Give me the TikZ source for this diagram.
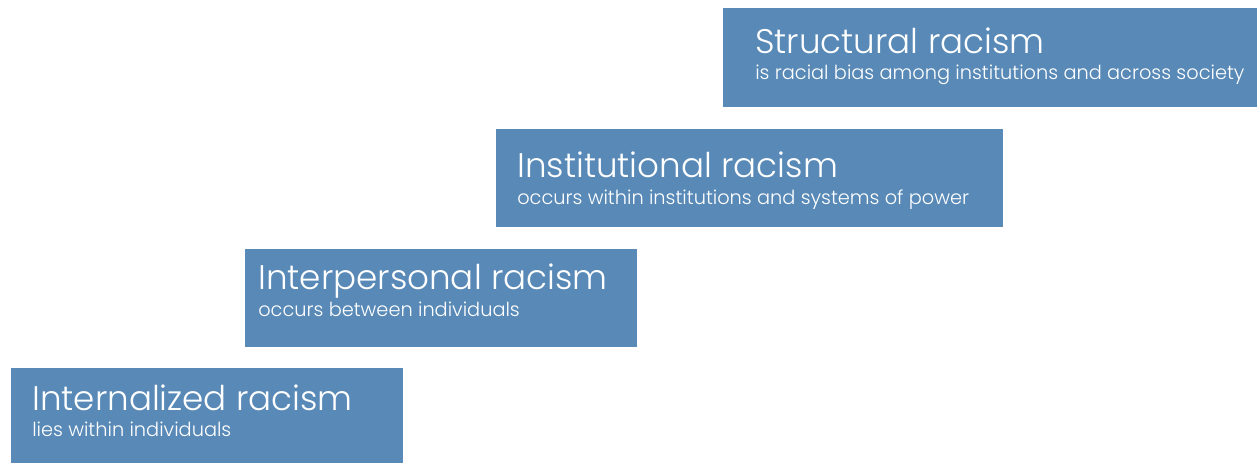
\documentclass[tikz,border=0pt]{standalone}
\usepackage{fontspec}
\setmainfont{Poppins}[UprightFont=* Light]
\definecolor{boxblue}{RGB}{89,138,183}
\tikzset{
  level/.style={draw opacity=0,fill=boxblue,fill opacity=1},
  head/.style={anchor=base west,inner sep=0pt,text=white,font=\fontsize{25.6}{30}\selectfont},
  note/.style={anchor=base west,inner sep=0pt,text=white,font=\fontsize{14.5}{17}\selectfont}
}
\begin{document}
\begin{tikzpicture}[x=0.75pt,y=0.75pt,yscale=-1,xscale=1]
\useasboundingbox (0,0) rectangle (1257,463);

%Shape: Rectangle [structural]
\draw [level] (723,8) rectangle (1257,107);
%Shape: Rectangle [institutional]
\draw [level] (496,129) rectangle (1003,227);
%Shape: Rectangle [interpersonal]
\draw [level] (245,249) rectangle (637,347);
%Shape: Rectangle [internalized]
\draw [level] (11,368) rectangle (403,463);

% Text Node
\node [head] (structT) at (755,54) {Structural racism};
% Text Node
\node [note] (structS) at (755,80) {is racial bias among institutions and across society};
% Text Node
\node [head] (instT) at (517,178) {Institutional racism};
% Text Node
\node [note] (instS) at (517,205) {occurs within institutions and systems of power};
% Text Node
\node [head] (interT) at (258,290) {Interpersonal racism};
% Text Node
\node [note] (interS) at (258,317) {occurs between individuals};
% Text Node
\node [head] (internT) at (32,411) {Internalized racism};
% Text Node
\node [note] (internS) at (32,436) {lies within individuals};

\end{tikzpicture}
\end{document}
